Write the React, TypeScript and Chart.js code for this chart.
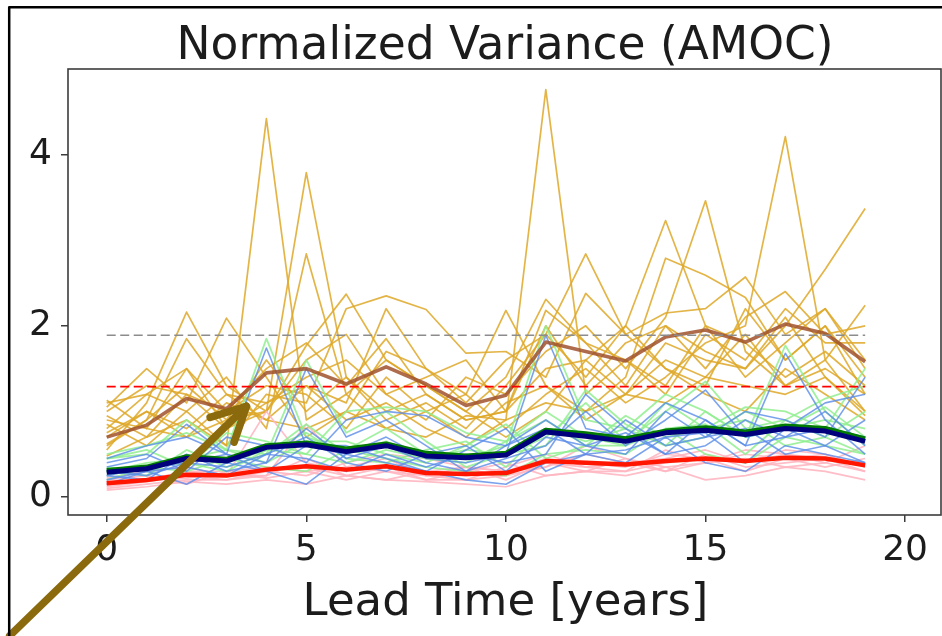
import React, { useEffect, useRef } from "react";
import { Chart, registerables } from "chart.js";

Chart.register(...registerables);

// ---------------- data ----------------
const LEAD = [0, 1, 2, 3, 4, 5, 6, 7, 8, 9, 10, 11, 12, 13, 14, 15, 16, 17, 18, 19];

// ensemble members (thin gold lines)
const ORANGE_1 = [0.95, 0.7, 0.9, 0.6, 4.42, 0.9, 1.2, 0.8, 1.0, 0.7, 1.1, 1.3, 0.9, 1.2, 1.6, 1.4, 1.9, 1.3, 1.5, 1.2];
const ORANGE_2 = [0.6, 0.9, 1.3, 0.9, 1.0, 3.79, 1.4, 1.0, 1.2, 0.9, 1.0, 1.5, 1.6, 2.0, 1.5, 1.3, 2.2, 1.6, 2.0, 1.4];
const ORANGE_3 = [0.8, 1.2, 1.0, 1.4, 0.8, 2.84, 1.2, 1.6, 1.3, 1.0, 1.4, 2.31, 1.8, 1.3, 2.0, 1.7, 1.5, 2.1, 1.4, 1.0];
const ORANGE_4 = [0.7, 1.0, 0.8, 1.2, 1.1, 1.3, 0.9, 1.1, 0.8, 0.6, 0.9, 4.76, 1.2, 1.6, 1.3, 2.0, 1.4, 1.8, 2.2, 1.5];
const ORANGE_5 = [1.13, 0.8, 1.5, 1.0, 1.3, 1.2, 0.8, 1.4, 1.0, 1.2, 0.8, 1.2, 1.5, 1.1, 1.4, 1.8, 2.0, 4.21, 1.6, 1.0];
const ORANGE_6 = [0.55, 1.1, 2.16, 1.3, 1.0, 1.6, 1.9, 1.2, 0.9, 1.4, 1.2, 1.7, 2.0, 1.5, 2.1, 3.46, 1.7, 1.3, 1.6, 2.24];
const ORANGE_7 = [1.05, 1.5, 1.1, 2.09, 1.4, 0.7, 1.0, 1.7, 1.5, 1.1, 1.6, 1.9, 1.4, 2.0, 3.23, 2.0, 1.8, 1.4, 1.7, 1.3];
const ORANGE_8 = [0.48, 0.7, 1.2, 0.8, 1.0, 1.77, 2.37, 1.6, 1.3, 1.0, 0.7, 1.0, 1.6, 1.2, 1.8, 1.6, 1.5, 2.0, 2.66, 3.37];
const ORANGE_9 = [0.85, 0.6, 1.0, 0.6, 1.2, 1.1, 2.2, 2.35, 2.19, 1.68, 1.7, 1.4, 2.38, 1.9, 2.15, 2.2, 2.57, 1.9, 2.2, 1.6];
const ORANGE_10 = [0.75, 1.0, 0.7, 0.9, 1.6, 1.0, 1.4, 0.9, 1.1, 0.8, 1.3, 1.9, 2.84, 1.9, 1.5, 1.2, 1.0, 1.5, 1.2, 0.9];
const ORANGE_11 = [0.62, 0.9, 1.85, 1.2, 0.9, 1.3, 1.1, 2.2, 1.5, 1.2, 2.18, 1.3, 1.0, 1.4, 2.79, 2.59, 2.33, 1.6, 2.0, 1.2];
const ORANGE_12 = [1.0, 1.3, 1.2, 1.0, 1.5, 1.8, 1.3, 1.85, 1.2, 0.9, 1.0, 2.18, 1.8, 1.6, 1.2, 1.9, 1.6, 2.2, 1.8, 1.8];
const ORANGE_13 = [0.9, 0.8, 0.7, 1.1, 0.9, 0.8, 1.0, 0.8, 0.7, 0.95, 0.9, 1.1, 1.0, 1.2, 1.1, 1.4, 1.3, 1.2, 1.4, 0.95];
const ORANGE_14 = [1.1, 1.2, 1.5, 0.8, 1.1, 1.4, 1.6, 1.2, 1.4, 1.6, 1.0, 2.0, 1.3, 1.8, 2.0, 1.5, 2.1, 2.4, 1.9, 2.0];

const BLUE_1 = [0.35, 0.45, 0.85, 0.5, 1.74, 0.6, 0.5, 0.7, 0.45, 0.4, 0.5, 1.89, 0.8, 0.7, 1.1, 0.9, 0.6, 1.68, 0.9, 0.5];
const BLUE_2 = [0.25, 0.2, 0.5, 0.3, 0.4, 1.5, 0.7, 0.9, 0.6, 0.3, 0.45, 0.6, 1.0, 0.6, 0.9, 1.25, 0.7, 0.8, 1.1, 1.2];
const BLUE_3 = [0.4, 0.5, 0.3, 0.7, 0.6, 0.4, 0.9, 1.0, 0.95, 0.7, 0.6, 0.8, 0.5, 0.9, 0.6, 0.7, 0.8, 0.5, 0.6, 0.4];
const BLUE_4 = [0.2, 0.3, 0.15, 0.4, 0.3, 0.15, 0.5, 0.4, 0.3, 0.2, 0.15, 0.4, 0.5, 0.4, 0.7, 0.4, 0.3, 0.6, 0.5, 0.4];
const BLUE_5 = [0.3, 0.25, 0.4, 0.35, 0.5, 0.45, 0.3, 0.5, 0.35, 0.5, 0.4, 0.5, 1.2, 0.8, 0.5, 0.6, 0.9, 0.7, 1.0, 0.6];
const BLUE_6 = [0.45, 0.6, 0.7, 0.5, 0.4, 0.8, 0.45, 0.6, 0.4, 0.3, 0.6, 0.9, 0.6, 0.5, 1.0, 0.7, 1.0, 0.9, 0.7, 1.4];
const BLUE_7 = [0.15, 0.3, 0.35, 0.25, 0.5, 0.7, 0.4, 0.3, 0.5, 0.6, 0.3, 0.7, 0.6, 0.75, 0.5, 0.9, 0.6, 0.7, 0.8, 0.7];
const BLUE_8 = [0.25, 0.35, 0.4, 0.5, 0.3, 0.6, 0.6, 0.45, 0.3, 0.55, 0.8, 0.3, 0.5, 0.55, 0.7, 0.75, 0.4, 0.8, 0.6, 0.9];

const GREEN_1 = [0.45, 0.5, 0.9, 0.55, 1.85, 0.7, 0.55, 0.8, 0.5, 0.45, 0.6, 2.0, 0.9, 0.8, 1.2, 1.0, 0.7, 1.77, 1.0, 0.6];
const GREEN_2 = [0.3, 0.25, 0.55, 0.35, 0.5, 1.6, 0.75, 1.0, 0.65, 0.35, 0.5, 0.7, 1.1, 0.65, 1.0, 1.35, 0.8, 0.9, 1.15, 1.3];
const GREEN_3 = [0.45, 0.55, 0.35, 0.75, 0.65, 0.5, 1.0, 1.05, 1.0, 0.75, 0.65, 0.9, 0.6, 0.95, 0.7, 0.8, 0.9, 0.6, 0.7, 0.5];
const GREEN_4 = [0.25, 0.35, 0.3, 0.45, 0.35, 0.3, 0.55, 0.45, 0.35, 0.3, 0.25, 0.5, 0.55, 0.5, 0.8, 0.5, 0.4, 0.7, 0.6, 0.5];
const GREEN_5 = [0.35, 0.3, 0.45, 0.4, 0.55, 0.5, 0.4, 0.55, 0.45, 0.55, 0.5, 0.6, 1.25, 0.85, 0.6, 0.7, 1.0, 0.8, 1.05, 0.7];
const GREEN_6 = [0.5, 0.6, 0.75, 0.55, 0.5, 0.85, 0.5, 0.65, 0.45, 0.4, 0.65, 1.0, 0.7, 0.6, 1.1, 0.8, 1.05, 1.0, 0.8, 1.5];
const GREEN_7 = [0.2, 0.35, 0.4, 0.3, 0.55, 0.75, 0.45, 0.4, 0.55, 0.65, 0.35, 0.8, 0.65, 0.8, 0.6, 1.0, 0.7, 0.8, 0.9, 0.8];
const GREEN_8 = [0.3, 0.4, 0.45, 0.55, 0.4, 0.65, 0.65, 0.5, 0.4, 0.6, 0.85, 0.45, 0.6, 0.6, 0.8, 0.85, 0.5, 0.9, 0.7, 1.0];

const PINK_1 = [0.15, 0.2, 0.3, 0.25, 1.0, 0.4, 0.3, 0.35, 0.3, 0.25, 0.3, 0.45, 0.4, 0.35, 0.5, 0.45, 0.4, 0.55, 0.5, 0.35];
const PINK_2 = [0.1, 0.15, 0.2, 0.2, 0.25, 0.85, 0.35, 0.45, 0.25, 0.2, 0.25, 0.35, 0.5, 0.4, 0.45, 0.55, 0.4, 0.5, 0.45, 0.4];
const PINK_3 = [0.2, 0.25, 0.15, 0.3, 0.3, 0.25, 0.4, 0.5, 0.45, 0.35, 0.3, 0.4, 0.3, 0.45, 0.35, 0.4, 0.45, 0.35, 0.4, 0.3];
const PINK_4 = [0.08, 0.12, 0.18, 0.15, 0.2, 0.15, 0.25, 0.2, 0.18, 0.15, 0.12, 0.25, 0.3, 0.25, 0.35, 0.2, 0.25, 0.35, 0.3, 0.2];
const PINK_5 = [0.18, 0.2, 0.3, 0.3, 0.35, 0.3, 0.2, 0.3, 0.25, 0.35, 0.3, 0.35, 0.6, 0.45, 0.3, 0.4, 0.5, 0.45, 0.5, 0.35];
const PINK_6 = [0.22, 0.3, 0.35, 0.25, 0.25, 0.45, 0.25, 0.35, 0.2, 0.2, 0.35, 0.5, 0.35, 0.3, 0.55, 0.4, 0.55, 0.5, 0.4, 0.6];
const PINK_7 = [0.12, 0.18, 0.25, 0.2, 0.3, 0.35, 0.25, 0.2, 0.3, 0.35, 0.2, 0.4, 0.35, 0.4, 0.3, 0.5, 0.35, 0.4, 0.45, 0.3];
const PINK_8 = [0.14, 0.2, 0.22, 0.28, 0.22, 0.3, 0.35, 0.3, 0.2, 0.3, 0.4, 0.25, 0.3, 0.3, 0.4, 0.45, 0.3, 0.45, 0.35, 0.45];

// thick summary lines
const BROWN_MEAN = [0.7, 0.84, 1.15, 1.03, 1.45, 1.5, 1.32, 1.52, 1.32, 1.07, 1.19, 1.81, 1.7, 1.59, 1.87, 1.95, 1.81, 2.02, 1.91, 1.58];
const GREEN_MEAN = [0.31, 0.35, 0.47, 0.44, 0.6, 0.63, 0.56, 0.62, 0.51, 0.48, 0.51, 0.78, 0.74, 0.68, 0.77, 0.81, 0.76, 0.83, 0.8, 0.68];
const NAVY_MEAN = [0.29, 0.33, 0.45, 0.42, 0.58, 0.61, 0.53, 0.6, 0.48, 0.46, 0.49, 0.76, 0.71, 0.65, 0.75, 0.78, 0.73, 0.8, 0.77, 0.65];
const RED_MEAN = [0.16, 0.2, 0.26, 0.25, 0.32, 0.36, 0.32, 0.36, 0.28, 0.27, 0.28, 0.42, 0.4, 0.38, 0.42, 0.45, 0.42, 0.46, 0.45, 0.37];

// dashed reference levels
const GREY_LEVEL = 1.89;
const RED_LEVEL = 1.29;

const X_TICKS = [0, 5, 10, 15, 20];
const Y_TICKS = [0, 2, 4];

const TITLE = "Normalized Variance (AMOC)";
const X_LABEL = "Lead Time [years]";

// annotation arrow (data coordinates)
const ARROW_TAIL = { x: -2.43, y: -1.62 };
const ARROW_TIP = { x: 3.5, y: 1.06 };

// ---------------- styling ----------------
const FONT = '"DejaVu Sans", "Liberation Sans", sans-serif';
const TEXT = "#1c1c1c";

const ORANGE_MEMBERS = [ORANGE_1, ORANGE_2, ORANGE_3, ORANGE_4, ORANGE_5, ORANGE_6, ORANGE_7, ORANGE_8, ORANGE_9, ORANGE_10, ORANGE_11, ORANGE_12, ORANGE_13, ORANGE_14];
const BLUE_MEMBERS = [BLUE_1, BLUE_2, BLUE_3, BLUE_4, BLUE_5, BLUE_6, BLUE_7, BLUE_8];
const GREEN_MEMBERS = [GREEN_1, GREEN_2, GREEN_3, GREEN_4, GREEN_5, GREEN_6, GREEN_7, GREEN_8];
const PINK_MEMBERS = [PINK_1, PINK_2, PINK_3, PINK_4, PINK_5, PINK_6, PINK_7, PINK_8];

function pts(vals: number[]) {
  return vals.map((v, i) => ({ x: LEAD[i], y: v }));
}

function levelPts(level: number) {
  return [
    { x: LEAD[0], y: level },
    { x: LEAD[LEAD.length - 1], y: level },
  ];
}

const decorPlugin = {
  id: "decor",
  beforeDraw(chart: any) {
    const { ctx, width, height } = chart;
    ctx.save();
    ctx.fillStyle = "#ffffff";
    ctx.fillRect(0, 0, width, height);
    ctx.restore();
  },
  afterDraw(chart: any) {
    const { ctx, chartArea: a, scales } = chart;
    const xs = scales.x;
    const ys = scales.y;
    ctx.save();
    // axes frame
    ctx.strokeStyle = "#3c3c3c";
    ctx.lineWidth = 1.6;
    ctx.strokeRect(a.left, a.top, a.right - a.left, a.bottom - a.top);

    // title
    const cx = (a.left + a.right) / 2;
    ctx.fillStyle = TEXT;
    ctx.textAlign = "center";
    ctx.textBaseline = "alphabetic";
    ctx.font = `45.5px ${FONT}`;
    ctx.fillText(TITLE, cx + 0.5, 59);

    // x label
    ctx.font = `45px ${FONT}`;
    ctx.fillText(X_LABEL, cx + 1, 615);

    // arrow
    const tx = xs.getPixelForValue(ARROW_TAIL.x);
    const ty = ys.getPixelForValue(ARROW_TAIL.y);
    const hx = xs.getPixelForValue(ARROW_TIP.x);
    const hy = ys.getPixelForValue(ARROW_TIP.y);
    ctx.strokeStyle = "#8a6a0c";
    ctx.lineWidth = 7.5;
    ctx.lineCap = "round";
    ctx.lineJoin = "round";
    ctx.beginPath();
    ctx.moveTo(tx, ty);
    ctx.lineTo(hx, hy);
    ctx.stroke();
    const ang = Math.atan2(ty - hy, tx - hx);
    const len = 38;
    const spread = (27 * Math.PI) / 180;
    ctx.beginPath();
    ctx.moveTo(hx + len * Math.cos(ang + spread), hy + len * Math.sin(ang + spread));
    ctx.lineTo(hx, hy);
    ctx.lineTo(hx + len * Math.cos(ang - spread), hy + len * Math.sin(ang - spread));
    ctx.stroke();

    // outer figure border
    ctx.strokeStyle = "#000000";
    ctx.lineWidth = 2.5;
    ctx.strokeRect(9.2, 7.2, 2000, 2000);
    ctx.restore();
  },
};

export default function App() {
  const canvasRef = useRef<HTMLCanvasElement | null>(null);

  useEffect(() => {
    const canvas = canvasRef.current;
    if (!canvas) return;

    const datasets: any[] = [];
    let seq = 0;
    const add = (ds: any) => {
      datasets.push({
        pointRadius: 0,
        pointHoverRadius: 0,
        tension: 0,
        fill: false,
        borderJoinStyle: "round",
        order: 1000 - seq,
        ...ds,
      });
      seq += 1;
    };

    ORANGE_MEMBERS.forEach((m) => add({ data: pts(m), borderColor: "rgba(222,168,40,0.85)", borderWidth: 1.7 }));
    PINK_MEMBERS.forEach((m) => add({ data: pts(m), borderColor: "rgba(255,182,193,0.9)", borderWidth: 1.7 }));
    GREEN_MEMBERS.forEach((m) => add({ data: pts(m), borderColor: "rgba(144,238,144,0.85)", borderWidth: 1.8 }));
    BLUE_MEMBERS.forEach((m) => add({ data: pts(m), borderColor: "rgba(90,140,232,0.8)", borderWidth: 1.6 }));
    add({ data: pts(BROWN_MEAN), borderColor: "rgba(160,82,45,0.85)", borderWidth: 3.6 });
    add({ data: levelPts(GREY_LEVEL), borderColor: "#8c8c8c", borderWidth: 1.6, borderDash: [9, 4.5] });
    add({ data: levelPts(RED_LEVEL), borderColor: "#ff0000", borderWidth: 1.6, borderDash: [9, 4.5] });
    add({ data: pts(RED_MEAN), borderColor: "#ff1500", borderWidth: 4.5 });
    add({ data: pts(GREEN_MEAN), borderColor: "#007a00", borderWidth: 5 });
    add({ data: pts(NAVY_MEAN), borderColor: "#00007c", borderWidth: 5 });

    const chart = new Chart(canvas, {
      type: "line",
      data: { datasets },
      plugins: [decorPlugin],
      options: {
        animation: false,
        responsive: false,
        devicePixelRatio: 1,
        events: [],
        layout: { padding: { left: 0, top: 69, right: 1, bottom: 0 } },
        plugins: {
          legend: { display: false },
          tooltip: { enabled: false },
          title: { display: false },
        },
        scales: {
          x: {
            type: "linear",
            min: -0.97,
            max: 20.9,
            afterBuildTicks: (s: any) => {
              s.ticks = X_TICKS.map((v) => ({ value: v }));
            },
            afterFit: (s: any) => {
              s.height = 121;
            },
            border: { display: false },
            grid: {
              display: true,
              drawOnChartArea: false,
              drawTicks: true,
              tickLength: 7,
              color: "#3c3c3c",
              lineWidth: 1.5,
            },
            ticks: {
              font: { family: FONT, size: 36 },
              color: TEXT,
              padding: 7,
              maxRotation: 0,
              autoSkip: false,
            },
          },
          y: {
            type: "linear",
            min: -0.21,
            max: 5.0,
            afterBuildTicks: (s: any) => {
              s.ticks = Y_TICKS.map((v) => ({ value: v }));
            },
            afterFit: (s: any) => {
              s.width = 68;
            },
            border: { display: false },
            grid: {
              display: true,
              drawOnChartArea: false,
              drawTicks: true,
              tickLength: 7,
              color: "#3c3c3c",
              lineWidth: 1.5,
            },
            ticks: {
              font: { family: FONT, size: 36 },
              color: TEXT,
              padding: 9,
              autoSkip: false,
            },
          },
        },
      },
    });

    return () => {
      chart.destroy();
    };
  }, []);

  return (
    <div
      style={{
        position: "fixed",
        left: 0,
        top: 0,
        width: 942,
        height: 636,
        background: "#fff",
        overflow: "hidden",
      }}
    >
      <canvas ref={canvasRef} width={942} height={636} style={{ display: "block", width: 942, height: 636 }} />
    </div>
  );
}
